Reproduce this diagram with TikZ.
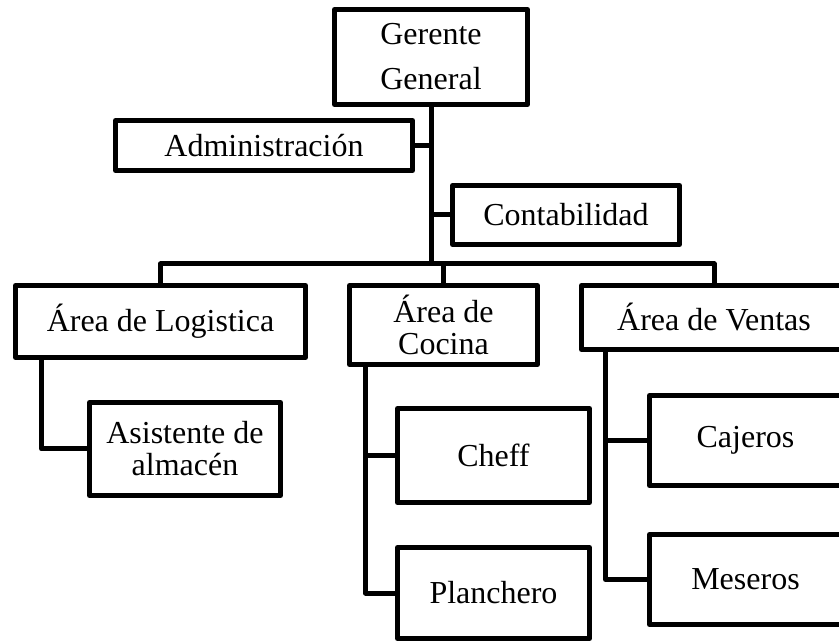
\documentclass[tikz,border=0pt]{standalone}
\usepackage{fontspec}
\setmainfont{Liberation Serif}
\begin{document}
\begin{tikzpicture}[x=1pt,y=-1pt,
  line width=5pt, line join=round,
  box/.style={draw, rectangle, inner sep=0pt, align=center,
    font=\fontsize{32}{32}\selectfont},
  conn/.style={draw, line width=5pt}]
\useasboundingbox (0,0) rectangle (839,644);
\clip (0,0) rectangle (839,644);
\fill[white] (0,0) rectangle (839,644);
\node[box, minimum width=193pt, minimum height=95pt, font=\fontsize{32}{45}\selectfont] (ger) at (431,57) {Gerente\\General};
\node[box, minimum width=297pt, minimum height=50pt] (adm) at (264,145.5) {Administración};
\node[box, minimum width=227pt, minimum height=59pt] (con) at (566,215) {Contabilidad};
\node[box, minimum width=290pt, minimum height=72pt] (log) at (160.5,321.5) {Área de Logistica};
\node[box, minimum width=188pt, minimum height=79pt] (coc) at (443.5,325) {Área de\\Cocina};
\node[box, minimum width=265pt, minimum height=64pt] (ven) at (714,317.5) {Área de Ventas};
\node[box, minimum width=191pt, minimum height=93pt] (asi) at (185,449) {Asistente de\\almacén};
\node[box, minimum width=192pt, minimum height=94pt] (che) at (493.5,455.5) {Cheff};
\node[box, minimum width=192pt, minimum height=91pt] (pla) at (493.5,593) {Planchero};
\node[box, minimum width=192pt, minimum height=90pt] (caj) at (745.5,440.5) {Cajeros};
\node[box, minimum width=192pt, minimum height=90pt] (mes) at (745.5,579.5) {Meseros};
\coordinate (bus) at (431,264);
\coordinate (logL) at ([xshift=28.5pt]log.south west);
\coordinate (cocL) at ([xshift=18.5pt]coc.south west);
\coordinate (venL) at ([xshift=26.5pt]ven.south west);
\path[conn] (ger.south) -- (bus);
\path[conn] (adm.east) -- (adm.east -| ger.south);
\path[conn] (con.west) -- (con.west -| ger.south);
\path[conn] (log.north) |- (ven.north |- bus) -- (ven.north);
\path[conn] (coc.north) -- (coc.north |- bus);
\path[conn] (logL) |- (asi.west);
\path[conn] (cocL) |- (pla.west);
\path[conn] (che.west) -- (cocL |- che.west);
\path[conn] (venL) |- (mes.west);
\path[conn] (caj.west) -- (venL |- caj.west);
\end{tikzpicture}
\end{document}
